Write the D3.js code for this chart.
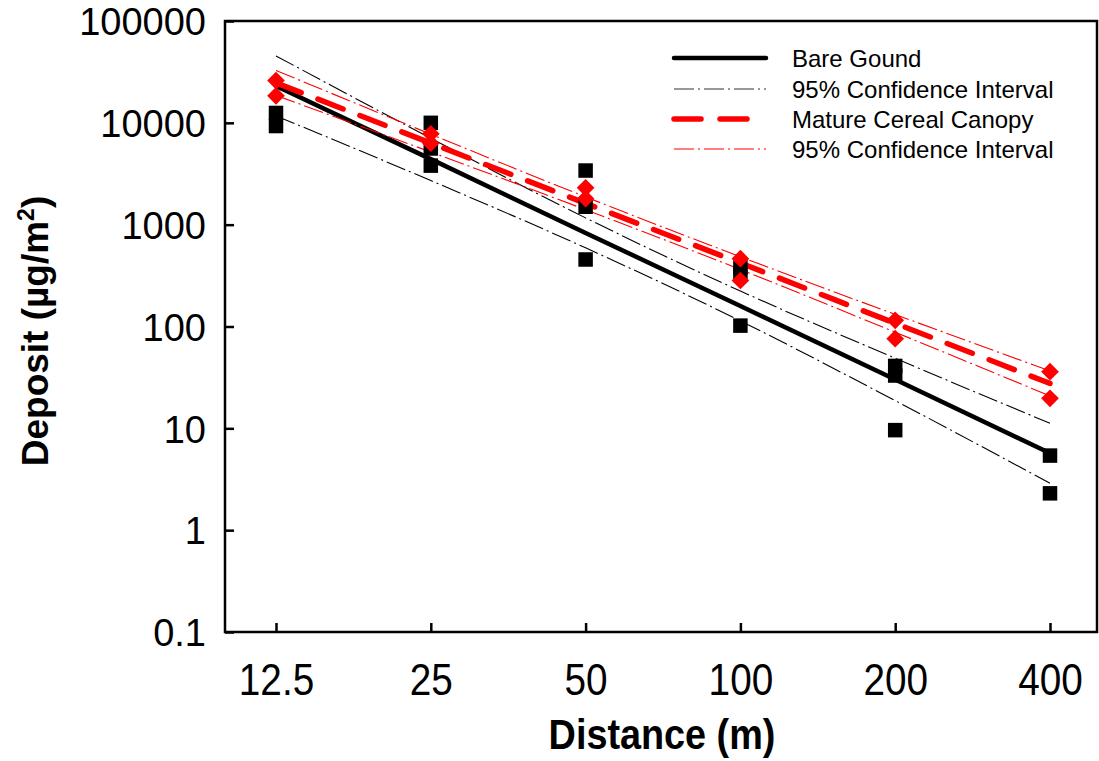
<!DOCTYPE html>
<html><head><meta charset="utf-8">
<script src="https://cdn.jsdelivr.net/npm/d3@7"></script>
<style>
body{margin:0;background:#fff;}
svg{display:block;font-family:"Liberation Sans",Arial,sans-serif;}
</style></head>
<body><svg id="chart" width="1099" height="761"></svg>
<script>
// ---- data ----
const distances = [12.5, 25, 50, 100, 200, 400];
const xTickLabels = ["12.5", "25", "50", "100", "200", "400"];
const yTickValues = [0.1, 1, 10, 100, 1000, 10000, 100000];
const yTickLabels = ["0.1", "1", "10", "100", "1000", "10000", "100000"];

// observed deposits, bare ground (black squares)
const bareX = [12.5, 12.5, 25, 25, 25, 50, 50, 50, 100, 100, 100, 200, 200, 200, 400, 400];
const bareY = [12500, 9300, 10000, 5600, 3800, 3400, 1500, 455, 380, 330, 102, 41, 33, 9.6, 5.4, 2.3];
// observed deposits, mature cereal canopy (red diamonds)
const cerealX = [12.5, 12.5, 25, 25, 50, 50, 100, 100, 200, 200, 400, 400];
const cerealY = [26000, 18400, 7800, 6300, 2300, 1800, 464, 283, 115, 76, 36, 19.7];

// regression fits and 95% confidence bands at each distance
const bareFit   = [23000, 4400, 830, 159, 30.2, 5.7];
const bareUpper = [45400, 7060, 1166, 223, 48.8, 11.2];
const bareLower = [11700, 2710, 592, 113.5, 18.7, 2.89];
const cerealFit   = [24700, 6320, 1620, 420, 107.5, 27.6];
const cerealUpper = [32700, 7730, 1874, 484, 131.4, 36.6];
const cerealLower = [18600, 5170, 1403, 363, 87.9, 20.8];

const legendLabels = ["Bare Gound", "95% Confidence Interval", "Mature Cereal Canopy", "95% Confidence Interval"];

// ---- layout ----
const svg = d3.select("#chart");
const frame = {left: 225, right: 1097, top: 21, bottom: 632};
const x = d3.scaleLog().domain([12.5, 400]).range([276, 1050]);
const y = d3.scaleLog().domain([0.1, 100000]).range([frame.bottom, frame.top]);

// axes
const yAxis = d3.axisLeft(y).tickValues(yTickValues)
  .tickFormat((d, i) => yTickLabels[i]).tickSize(-9).tickPadding(19);
const gy = svg.append("g").attr("transform", `translate(${frame.left},0)`).call(yAxis);
gy.select(".domain").remove();
gy.selectAll(".tick line").attr("stroke", "#000").attr("stroke-width", 2.5);
gy.selectAll(".tick text").attr("font-size", 38).attr("fill", "#000")
  .attr("font-family", "'Liberation Sans',Arial,sans-serif")
  .attr("dy", "0.36em");

const xAxis = d3.axisBottom(x).tickValues(distances)
  .tickFormat((d, i) => xTickLabels[i]).tickSize(-9).tickPadding(32);
const gx = svg.append("g").attr("transform", `translate(0,${frame.bottom})`).call(xAxis);
gx.select(".domain").remove();
gx.selectAll(".tick line").attr("stroke", "#000").attr("stroke-width", 2.5);
gx.selectAll(".tick text").attr("font-size", 44).attr("fill", "#000")
  .attr("font-family", "'Liberation Sans',Arial,sans-serif")
  .attr("transform", "scale(0.88,1)");

// frame
svg.append("rect").attr("x", frame.left).attr("y", frame.top)
  .attr("width", frame.right - frame.left).attr("height", frame.bottom - frame.top)
  .attr("fill", "none").attr("stroke", "#000").attr("stroke-width", 2.5);

// axis titles
svg.append("text").attr("x", 662).attr("y", 749).attr("text-anchor", "middle")
  .attr("font-size", 42).attr("font-weight", "bold")
  .attr("transform", "translate(662,0) scale(0.9,1) translate(-662,0)")
  .text("Distance (m)");
const yt = svg.append("text").attr("transform", "translate(48,331) rotate(-90)")
  .attr("text-anchor", "middle").attr("font-size", 37).attr("font-weight", "bold");
yt.append("tspan").text("Deposit (µg/m");
yt.append("tspan").attr("font-size", 23).attr("dy", -14).text("2");
yt.append("tspan").attr("dy", 14).text(")");

// lines
const line = d3.line().x(d => x(d[0])).y(d => y(d[1])).curve(d3.curveMonotoneX);
const pairs = arr => distances.map((d, i) => [d, arr[i]]);
const ciDash = "20,4,2,4";
const fitDash = "27,18";

const plot = svg.append("g");
[bareUpper, bareLower].forEach(a => plot.append("path").attr("d", line(pairs(a)))
  .attr("fill", "none").attr("stroke", "#000").attr("stroke-width", 1.1).attr("stroke-dasharray", ciDash));
plot.append("path").attr("d", line(pairs(bareFit)))
  .attr("fill", "none").attr("stroke", "#000").attr("stroke-width", 4.5).attr("stroke-linecap", "round");
[cerealUpper, cerealLower].forEach(a => plot.append("path").attr("d", line(pairs(a)))
  .attr("fill", "none").attr("stroke", "#ff0000").attr("stroke-width", 1.1).attr("stroke-dasharray", ciDash));
plot.append("path").attr("d", line(pairs(cerealFit)))
  .attr("fill", "none").attr("stroke", "#ff0000").attr("stroke-width", 5.5)
  .attr("stroke-linecap", "round").attr("stroke-dasharray", fitDash);

// markers
const sq = 14.5;
plot.selectAll("rect.bare").data(bareX.map((d, i) => [d, bareY[i]])).enter()
  .append("rect").attr("class", "bare")
  .attr("x", d => x(d[0]) - sq / 2).attr("y", d => y(d[1]) - sq / 2)
  .attr("width", sq).attr("height", sq).attr("fill", "#000");
const diamond = d3.symbol().type(d3.symbolDiamond2).size(200);
plot.selectAll("path.cereal").data(cerealX.map((d, i) => [d, cerealY[i]])).enter()
  .append("path").attr("class", "cereal").attr("d", diamond)
  .attr("transform", d => `translate(${x(d[0])},${y(d[1])})`).attr("fill", "#ff0000");

// legend
const legY = [58, 89, 119, 149];
const styles = [
  {stroke: "#000", w: 4.5, dash: null, cap: "round"},
  {stroke: "#333", w: 1.1, dash: ciDash, cap: "butt"},
  {stroke: "#ff0000", w: 5.5, dash: "27,19", cap: "round"},
  {stroke: "#ff0000", w: 1.1, dash: ciDash, cap: "butt"}
];
const leg = svg.append("g");
legendLabels.forEach((t, i) => {
  const s = styles[i];
  leg.append("line").attr("x1", 674).attr("x2", 766).attr("y1", legY[i]).attr("y2", legY[i])
    .attr("stroke", s.stroke).attr("stroke-width", s.w).attr("stroke-linecap", s.cap)
    .attr("stroke-dasharray", s.dash);
  leg.append("text").attr("x", 792).attr("y", legY[i]).attr("dy", "0.36em")
    .attr("font-size", 24).attr("fill", "#000").text(t);
});
</script></body></html>
